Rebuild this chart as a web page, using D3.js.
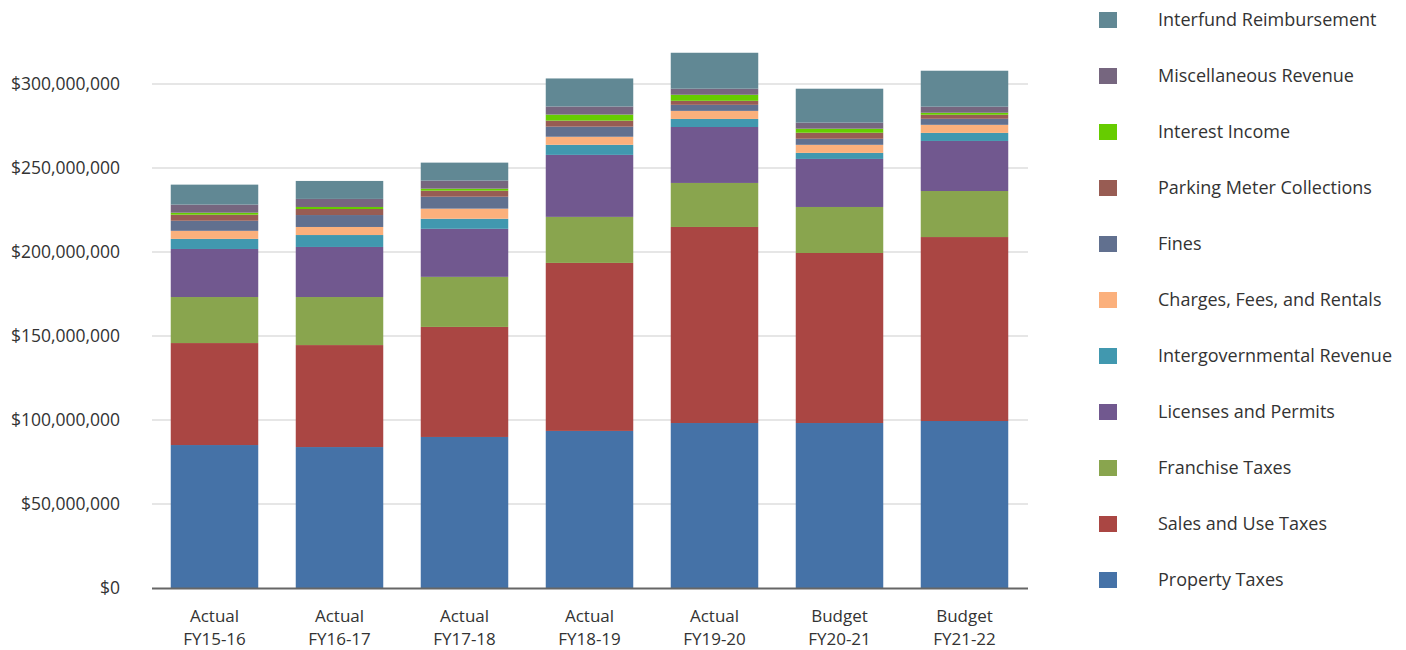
<!DOCTYPE html>
<html>
<head>
<meta charset="utf-8">
<script src="https://cdn.jsdelivr.net/npm/d3@7"></script>
<style>
  html, body { margin: 0; padding: 0; background: #fff; }
  svg { display: block; font-family: "Open Sans", sans-serif; }
</style>
</head>
<body>
<svg id="chart" width="1406" height="650"></svg>
<script>
// Fiscal years shown on the x axis (two-line labels)
const categories = ["Actual FY15-16", "Actual FY16-17", "Actual FY17-18", "Actual FY18-19", "Actual FY19-20", "Budget FY20-21", "Budget FY21-22"];

// Revenue sources, bottom of the stack first (values in millions of dollars)
const seriesNames = ["Property Taxes", "Sales and Use Taxes", "Franchise Taxes", "Licenses and Permits", "Intergovernmental Revenue", "Charges, Fees, and Rentals", "Fines", "Parking Meter Collections", "Interest Income", "Miscellaneous Revenue", "Interfund Reimbursement"];
const propertyTaxes      = [85.1, 83.9, 89.9, 93.5, 98.2, 98.2, 99.4];
const salesUseTaxes      = [60.7, 60.7, 65.5, 100.0, 116.7, 101.2, 109.5];
const franchiseTaxes     = [27.4, 28.6, 29.8, 27.4, 26.2, 27.4, 27.4];
const licensesPermits    = [28.6, 29.8, 28.6, 36.9, 33.3, 28.6, 29.8];
const intergovernmental  = [6.0, 7.1, 6.0, 6.0, 4.8, 3.6, 4.8];
const chargesFeesRentals = [4.8, 4.8, 6.0, 4.8, 4.8, 4.8, 4.8];
const fines              = [6.0, 7.1, 7.1, 6.0, 3.6, 3.6, 3.6];
const parkingMeters      = [3.6, 3.6, 3.6, 3.6, 2.4, 3.6, 2.4];
const interestIncome     = [1.2, 1.2, 1.2, 3.6, 3.6, 2.4, 1.2];
const miscRevenue        = [4.8, 4.8, 4.8, 4.8, 3.6, 3.6, 3.6];
const interfundReimb     = [11.9, 10.7, 10.7, 16.7, 21.4, 20.2, 21.4];
const seriesColors = ["#4572a7", "#aa4643", "#89a54e", "#71588f", "#4198af", "#fbb07c", "#61708f", "#985c53", "#66cc00", "#76667f", "#618894"];

const yTicks = [0, 50, 100, 150, 200, 250, 300];

const seriesValues = [propertyTaxes, salesUseTaxes, franchiseTaxes, licensesPermits, intergovernmental, chargesFeesRentals, fines, parkingMeters, interestIncome, miscRevenue, interfundReimb];

// Rows for d3.stack
const rows = categories.map((c, i) => {
  const r = { category: c };
  seriesNames.forEach((s, k) => { r[s] = seriesValues[k][i] * 1e6; });
  return r;
});

const svg = d3.select("#chart");
const plot = { left: 152, right: 1027, top: 0, bottom: 588 };

const x = d3.scaleBand()
  .domain(categories)
  .range([plot.left, plot.right])
  .paddingInner(0.3)
  .paddingOuter(0.15);

const y = d3.scaleLinear()
  .domain([0, 300e6])
  .range([plot.bottom, 84]);

// Horizontal gridlines
svg.append("g")
  .selectAll("line")
  .data(yTicks.filter(t => t > 0))
  .join("line")
  .attr("x1", plot.left)
  .attr("x2", plot.right + 1)
  .attr("y1", d => y(d * 1e6))
  .attr("y2", d => y(d * 1e6))
  .attr("stroke", "#e6e6e6")
  .attr("stroke-width", 2);

// Y axis labels
const fmt = d3.format("$,");
svg.append("g")
  .selectAll("text")
  .data(yTicks)
  .join("text")
  .attr("x", 120)
  .attr("y", d => y(d * 1e6))
  .attr("dy", "0.35em")
  .attr("text-anchor", "end")
  .attr("font-size", 17.5)
  .attr("fill", "#333")
  .text(d => fmt(d * 1e6));

// Stacked bars
const stack = d3.stack().keys(seriesNames);
const layers = stack(rows);

svg.append("g")
  .selectAll("g")
  .data(layers)
  .join("g")
  .attr("fill", (d, i) => seriesColors[i])
  .selectAll("rect")
  .data(d => d)
  .join("rect")
  .attr("x", d => x(d.data.category))
  .attr("width", x.bandwidth())
  .attr("y", d => y(d[1]))
  .attr("height", d => y(d[0]) - y(d[1]));

// Baseline
svg.append("line")
  .attr("x1", plot.left)
  .attr("x2", plot.right + 1)
  .attr("y1", plot.bottom + 0.5)
  .attr("y2", plot.bottom + 0.5)
  .attr("stroke", "#666")
  .attr("stroke-width", 2);

// X axis labels (two lines)
const xl = svg.append("g")
  .selectAll("text")
  .data(categories)
  .join("text")
  .attr("x", d => x(d) + x.bandwidth() / 2)
  .attr("y", 622)
  .attr("text-anchor", "middle")
  .attr("font-size", 17)
  .attr("fill", "#333");
xl.append("tspan")
  .attr("x", d => x(d) + x.bandwidth() / 2)
  .text(d => d.split(" ")[0]);
xl.append("tspan")
  .attr("x", d => x(d) + x.bandwidth() / 2)
  .attr("dy", 23)
  .text(d => d.split(" ")[1]);

// Legend, top-down from Interfund Reimbursement
const legendItems = seriesNames.map((s, i) => ({ name: s, color: seriesColors[i] })).reverse();
const legend = svg.append("g")
  .selectAll("g")
  .data(legendItems)
  .join("g")
  .attr("transform", (d, i) => `translate(1099, ${12 + i * 56})`);
legend.append("rect")
  .attr("width", 18)
  .attr("height", 16)
  .attr("fill", d => d.color);
legend.append("text")
  .attr("x", 59)
  .attr("y", 8)
  .attr("dy", "0.35em")
  .attr("font-size", 18)
  .attr("fill", "#333")
  .text(d => d.name);
</script>
</body>
</html>
